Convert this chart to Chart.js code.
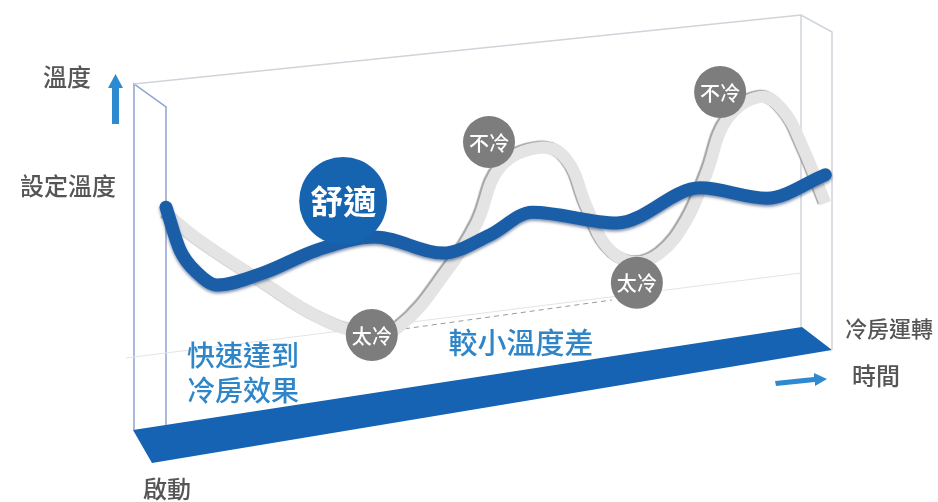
<!DOCTYPE html>
<html>
<head>
<meta charset="utf-8">
<script src="https://cdn.jsdelivr.net/npm/chart.js@4.4.1/dist/chart.umd.min.js"></script>
<style>
  html, body { margin: 0; padding: 0; background: #fff; }
  .canvas-container { width: 938px; height: 502px; position: relative; }
</style>
</head>
<body>
<div class="canvas-container">
  <canvas id="tempchart"></canvas>
</div>
<script>
// time 0..100 along the run, temperature 0..100 arbitrary
const grayTime = [0, 5, 14.6, 23.1, 30, 35, 42.6, 46.7, 50.2, 56.2, 60.2, 63.2, 66.2, 70.1, 74.2, 78.2, 81.2, 84.2, 89.2, 92.6, 95.6, 99];
const grayTemp = [57, 51, 41.6, 33.8, 30.5, 31.8, 45.1, 54.9, 67.3, 71.6, 68.9, 58.4, 49.6, 46.2, 48.2, 55.6, 66, 77.8, 82.9, 80, 71.8, 59.3];

const blueTime = [0, 2.1, 4.7, 7.7, 14.6, 22.7, 31.4, 41.6, 48.6, 55, 67.7, 80.2, 90.2, 99];
const blueTemp = [58.4, 48.9, 43.8, 41.1, 43.8, 48.9, 51.8, 48.2, 52.2, 57.3, 54.9, 62.7, 60.4, 65.6];

const markerLabels = ["舒適", "太冷", "不冷", "太冷", "不冷"];
const markerTime = [26.6, 30.9, 48.5, 70.7, 83.2];
const markerTemp = [59.8, 30.0, 72.9, 41.6, 84.0];

const FONT = "'Noto Sans CJK TC', 'Noto Sans CJK SC', sans-serif";

const zip = (xs, ys) => xs.map((x, i) => ({x: x, y: ys[i]}));

// box, floor and side texts
const framePlugin = {
  id: "frame",
  beforeDatasetsDraw(chart) {
    const c = chart.ctx;
    c.save();
    // floor
    c.fillStyle = "#1563b2";
    c.beginPath();
    c.moveTo(133, 430); c.lineTo(802, 327); c.lineTo(832, 350); c.lineTo(152, 463);
    c.closePath(); c.fill();

    // box edges
    c.lineWidth = 1.5;
    c.strokeStyle = "#8da3cf";
    c.beginPath();
    c.moveTo(134, 430); c.lineTo(134, 84); c.lineTo(166, 107); c.lineTo(166, 425);
    c.stroke();
    c.strokeStyle = "#cfd3da";
    c.beginPath();
    c.moveTo(134, 84); c.lineTo(801, 15); c.lineTo(832, 32); c.lineTo(832, 350);
    c.moveTo(801, 15); c.lineTo(801, 327);
    c.stroke();

    // faint base line and dashed gap line
    c.strokeStyle = "#e2e4e8";
    c.lineWidth = 1;
    c.beginPath(); c.moveTo(126, 358); c.lineTo(801, 273); c.stroke();
    c.strokeStyle = "#9a9a9a";
    c.setLineDash([5, 4]);
    c.beginPath(); c.moveTo(396, 330); c.lineTo(612, 300); c.stroke();
    c.setLineDash([]);

    // arrows
    c.fillStyle = "#2e8ad0";
    c.fillRect(112, 86, 7, 38);
    c.beginPath(); c.moveTo(108, 88); c.lineTo(115.5, 74); c.lineTo(123, 88); c.closePath(); c.fill();
    c.beginPath();
    c.moveTo(775, 381); c.lineTo(814, 377); c.lineTo(814, 373); c.lineTo(827, 379);
    c.lineTo(815, 386); c.lineTo(815, 382); c.lineTo(776, 386); c.closePath(); c.fill();

    // texts
    c.textAlign = "center";
    c.textBaseline = "middle";
    c.fillStyle = "#555";
    c.font = "500 24px " + FONT;
    c.fillText("溫度", 67, 77);
    c.fillText("設定溫度", 68, 186);
    c.fillText("時間", 876, 376);
    c.fillText("啟動", 167, 489);
    c.font = "500 22px " + FONT;
    c.fillText("冷房運轉", 889, 329);
    c.fillStyle = "#2e86c8";
    c.font = "500 28px " + FONT;
    c.fillText("快速達到", 243, 355);
    c.fillText("冷房效果", 243, 390);
    c.font = "500 29px " + FONT;
    c.fillText("較小溫度差", 521, 343);
    c.restore();
  },
  beforeDatasetDraw(chart, args) {
    const c = chart.ctx;
    c.save();
    if (args.index === 2) {
      c.shadowColor = "rgba(150,150,150,0.85)";
      c.shadowOffsetX = -2; c.shadowOffsetY = -1; c.shadowBlur = 1;
    } else if (args.index === 1) {
      c.shadowColor = "rgba(10,40,90,0.5)";
      c.shadowOffsetX = 0; c.shadowOffsetY = 2; c.shadowBlur = 3;
    }
  },
  afterDatasetDraw(chart) {
    chart.ctx.restore();
  },
  afterDatasetsDraw(chart) {
    const c = chart.ctx;
    const meta = chart.getDatasetMeta(0);
    c.save();
    c.fillStyle = "#fff";
    c.textAlign = "center";
    c.textBaseline = "middle";
    meta.data.forEach((pt, i) => {
      c.font = (i === 0 ? "700 33px " : "500 20px ") + FONT;
      c.fillText(markerLabels[i], pt.x, pt.y + 1);
    });
    c.restore();
  }
};

new Chart(document.getElementById("tempchart"), {
  type: "line",
  data: {
    datasets: [{
      type: "scatter",
      label: "markers",
      data: zip(markerTime, markerTemp),
      pointRadius: ctx => ctx.dataIndex === 0 ? 44 : 26,
      pointBackgroundColor: ctx => ctx.dataIndex === 0 ? "#1663b0" : "#7d7d7d",
      pointBorderWidth: 0,
      showLine: false,
      clip: false,
      order: 0
    }, {
      label: "inverter",
      data: zip(blueTime, blueTemp),
      borderColor: "#1a5ea8",
      borderWidth: 13,
      borderCapStyle: "round",
      cubicInterpolationMode: "monotone",
      pointRadius: 0,
      clip: false,
      order: 1
    }, {
      label: "fixed",
      data: zip(grayTime, grayTemp),
      borderColor: "#e4e4e4",
      borderWidth: 12,
      tension: 0.4,
      pointRadius: 0,
      clip: false,
      order: 2
    }]
  },
  options: {
    responsive: true,
    maintainAspectRatio: false,
    animation: false,
    events: [],
    layout: { autoPadding: false, padding: { left: 166, right: 106, top: 20, bottom: 32 } },
    scales: {
      x: { type: "linear", min: 0, max: 100, display: false },
      y: { min: 0, max: 100, display: false }
    },
    plugins: { legend: { display: false }, tooltip: { enabled: false } }
  },
  plugins: [framePlugin]
});
</script>
</body>
</html>
